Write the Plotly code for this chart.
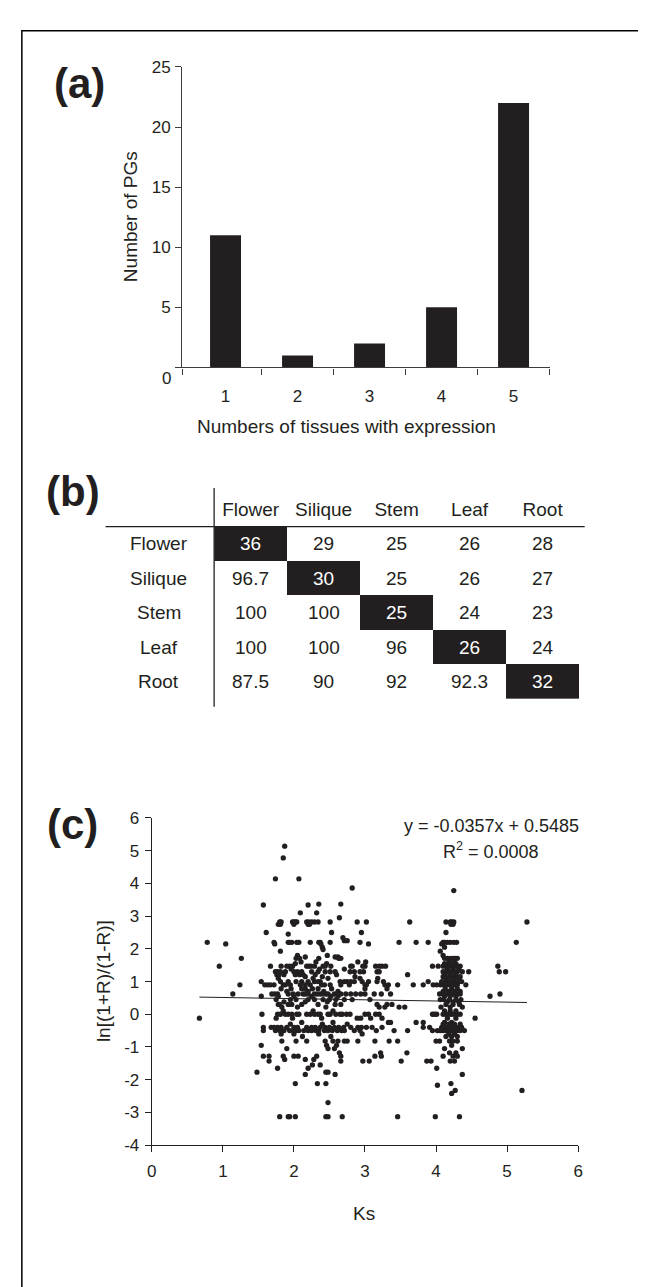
import plotly.graph_objects as go

W, H = 646, 1287

# ---------------- data ----------------
tissue_counts = [1, 2, 3, 4, 5]
pg_numbers = [11, 1, 2, 5, 22]
bar_yticks = [5, 10, 15, 20, 25]

tissues = ["Flower", "Silique", "Stem", "Leaf", "Root"]
overlap_values = [
    ["36", "29", "25", "26", "28"],
    ["96.7", "30", "25", "26", "27"],
    ["100", "100", "25", "24", "23"],
    ["100", "100", "96", "26", "24"],
    ["87.5", "90", "92", "92.3", "32"],
]

reg_slope = -0.0357
reg_intercept = 0.5485
reg_r2 = 0.0008

ks_ticks = [0, 1, 2, 3, 4, 5, 6]
ln_ticks = [-4, -3, -2, -1, 0, 1, 2, 3, 4, 5, 6]
ln_ticktext = ["-4", "-3", "-2", "-1", "0", "1", "2", "3", "4", "5", "6"]

# rows of points: (ln ratio, [Ks values])
scatter_rows = [
    (5.14, [1.87]),
    (4.78, [1.85]),
    (4.14, [1.74, 2.07]),
    (3.86, [2.82]),
    (3.78, [4.25]),
    (3.37, [2.35, 2.66]),
    (3.34, [1.57, 2.20]),
    (3.10, [2.09, 2.32]),
    (2.95, [2.64]),
    (2.82, [1.80, 1.82, 1.98, 2.00, 2.02, 2.04, 2.18, 2.21, 2.25, 2.29, 2.34, 2.51, 2.89, 3.02, 3.63, 4.14, 4.20, 4.22, 4.25, 5.28]),
    (2.75, [1.78, 1.81, 2.00, 2.20, 2.22, 4.21, 4.24]),
    (2.50, [1.61, 2.53, 2.95, 4.14]),
    (2.45, [1.92]),
    (2.34, [2.69]),
    (2.25, [2.71, 2.75]),
    (2.20, [0.78, 1.72, 1.92, 1.94, 1.97, 2.04, 2.07, 2.23, 2.35, 2.37, 2.51, 2.93, 3.48, 3.72, 3.89, 4.10, 4.12, 4.16, 4.20, 4.25, 4.29, 5.13]),
    (2.15, [1.04, 1.73, 2.38, 3.05, 4.08]),
    (2.05, [4.12, 2.40]),
    (1.98, [2.41]),
    (1.93, [1.81, 4.06]),
    (1.80, [2.47, 2.05, 4.10]),
    (1.75, [2.58, 2.16, 2.62]),
    (1.71, [1.26, 2.03, 2.08, 2.35, 2.63, 2.66, 4.12, 4.16, 4.20, 4.24, 4.27, 4.30]),
    (1.60, [2.90, 3.01, 4.18, 4.25, 2.10, 2.31]),
    (1.55, [4.12, 4.20, 4.28, 2.46, 2.02]),
    (1.47, [0.95, 1.67, 1.82, 1.90, 1.94, 1.98, 2.18, 2.21, 2.24, 2.29, 2.41, 2.44, 2.52, 2.80, 2.82, 2.97, 3.00, 3.15, 3.20, 3.24, 3.29, 3.95, 4.03, 4.10, 4.14, 4.18, 4.22, 4.26, 4.30, 4.34, 4.87]),
    (1.38, [4.16, 4.24, 4.32, 1.96, 2.36, 2.71]),
    (1.30, [1.74, 1.77, 1.81, 1.88, 2.00, 2.05, 2.11, 2.25, 2.34, 2.44, 2.51, 2.58, 2.79, 2.85, 2.93, 2.98, 3.17, 3.20, 4.10, 4.14, 4.18, 4.22, 4.26, 4.30, 4.37, 4.46, 4.89, 4.98]),
    (1.21, [1.76, 1.79, 1.86, 2.02, 2.08, 2.13, 2.30, 2.60, 3.60, 4.12, 4.20, 4.28]),
    (1.15, [4.10, 4.18, 4.26, 4.34, 2.16, 2.40, 2.86]),
    (1.10, [1.78, 2.27, 2.48, 2.93, 3.18, 4.15, 4.24, 4.32]),
    (1.00, [1.54, 1.81, 1.92, 2.03, 2.11, 2.20, 2.29, 2.34, 2.37, 2.65, 2.71, 2.75, 2.80, 2.85, 2.96, 3.05, 3.17, 3.26, 3.89, 4.08, 4.12, 4.16, 4.20, 4.24, 4.28, 4.32, 4.36]),
    (0.90, [1.24, 1.59, 1.63, 1.67, 1.72, 1.85, 1.88, 1.95, 2.09, 2.16, 2.23, 2.39, 2.43, 2.51, 2.66, 2.78, 3.00, 3.02, 3.28, 3.33, 3.46, 3.68, 3.82, 3.96, 4.01, 4.06, 4.10, 4.14, 4.18, 4.22, 4.26, 4.30, 4.42]),
    (0.78, [1.96, 2.11, 2.16, 2.34, 2.53, 3.00, 3.31, 4.13, 4.22, 4.30, 1.82, 2.26]),
    (0.70, [4.10, 4.18, 4.26, 4.34, 1.90, 2.20, 2.42, 2.62]),
    (0.62, [1.14, 1.69, 1.73, 1.77, 1.92, 1.99, 2.06, 2.13, 2.16, 2.20, 2.29, 2.33, 2.37, 2.41, 2.45, 2.48, 2.57, 2.66, 2.73, 2.80, 2.87, 2.94, 3.00, 3.13, 3.23, 3.36, 4.05, 4.10, 4.14, 4.18, 4.22, 4.26, 4.30, 4.34, 4.90]),
    (0.55, [1.54, 1.78, 2.00, 2.25, 2.52, 2.62, 4.12, 4.20, 4.28, 4.76]),
    (0.45, [1.75, 1.95, 2.03, 2.20, 2.29, 2.41, 2.50, 2.59, 2.71, 2.82, 3.07, 4.06, 4.11, 4.19, 4.28, 4.35]),
    (0.38, [4.16, 4.24, 4.32, 1.86, 2.16, 2.47]),
    (0.30, [1.78, 1.80, 1.92, 1.97, 2.11, 2.34, 2.58, 2.66, 3.17, 3.31, 3.38, 4.14, 4.24, 4.33]),
    (0.22, [1.83, 2.05, 2.45, 3.48, 3.56, 4.07, 4.20, 4.37, 3.20, 3.28]),
    (0.10, [4.12, 4.20, 4.28, 1.85, 2.27, 2.55]),
    (0.00, [1.55, 1.77, 1.81, 1.88, 1.92, 1.97, 2.04, 2.07, 2.18, 2.23, 2.29, 2.34, 2.37, 2.48, 2.51, 2.59, 2.65, 2.68, 2.74, 2.79, 3.00, 3.05, 3.15, 3.20, 3.95, 3.98, 4.01, 4.10, 4.14, 4.18, 4.22, 4.26, 4.30, 4.34]),
    (-0.12, [0.67, 1.75, 1.98, 2.39, 2.89, 2.94, 3.08, 3.24, 4.55, 4.16, 4.28]),
    (-0.25, [3.33, 3.36, 3.72, 3.82, 2.11, 2.55, 4.12, 4.22]),
    (-0.30, [4.10, 4.18, 4.26, 4.34, 1.95, 2.40, 2.75]),
    (-0.40, [1.57, 1.68, 1.72, 1.77, 1.82, 1.90, 2.00, 2.05, 2.18, 2.25, 2.30, 2.37, 2.44, 2.50, 2.57, 2.63, 2.70, 2.80, 2.90, 2.95, 3.02, 3.10, 3.24, 3.82, 3.91, 4.08, 4.12, 4.16, 4.20, 4.24, 4.28, 4.32, 4.36]),
    (-0.50, [1.57, 1.74, 1.80, 1.86, 1.94, 1.99, 2.03, 2.07, 2.14, 2.20, 2.25, 2.31, 2.35, 2.43, 2.48, 2.54, 2.61, 2.67, 2.71, 2.85, 2.93, 3.16, 3.41, 3.60, 3.95, 4.02, 4.06, 4.10, 4.14, 4.18, 4.22, 4.26, 4.30, 4.34, 4.40]),
    (-0.60, [1.82, 2.00, 2.35, 2.96, 4.18, 4.26]),
    (-0.68, [4.14, 4.22, 4.30, 2.12, 2.52]),
    (-0.82, [1.83, 2.03, 2.18, 2.44, 2.55, 2.62, 2.71, 2.75, 2.90, 3.14, 3.34, 3.46, 4.00, 4.05, 4.19, 4.24, 4.30]),
    (-0.95, [1.54, 2.46, 2.60, 4.22]),
    (-1.05, [1.90, 2.48, 2.57, 4.37, 4.12]),
    (-1.18, [3.22, 3.59, 4.19, 4.28, 2.64]),
    (-1.28, [1.57, 1.65, 1.85, 2.00, 2.06, 2.32, 2.66, 3.14, 3.23, 4.10, 4.24, 4.30]),
    (-1.38, [1.87, 2.16, 2.28]),
    (-1.43, [1.65, 2.97, 3.06, 3.51, 3.87, 3.93, 4.20, 4.26, 2.66]),
    (-1.55, [2.37, 2.26]),
    (-1.65, [1.77, 2.20, 4.01]),
    (-1.77, [1.48, 2.45, 2.48]),
    (-1.84, [2.16, 2.58, 4.37]),
    (-2.12, [2.02, 2.33, 2.45, 4.21]),
    (-2.17, [4.02]),
    (-2.33, [4.27, 5.21]),
    (-2.42, [4.22]),
    (-2.70, [2.48]),
    (-3.13, [1.80, 1.92, 1.94, 2.02, 2.45, 2.48, 2.68, 3.46, 3.99, 4.33]),
]

ks_values = [k for y, ks in scatter_rows for k in ks]
ln_values = [y for y, ks in scatter_rows for k in ks]

# ---------------- helpers ----------------
def fx(p):
    return p / W

def fy(p):
    return 1 - p / H

INK = "#231f20"
AX = "#3c3c3c"
FONT = "Liberation Sans, Arial, Helvetica, sans-serif"

fig = go.Figure()

# (a) bar chart
fig.add_trace(go.Bar(x=tissue_counts, y=pg_numbers, width=0.43,
                     marker=dict(color=INK, line=dict(width=0)),
                     xaxis="x", yaxis="y", hoverinfo="skip"))

# (b) table as heatmap
diag = [[1 if i == j else 0 for j in range(5)] for i in range(5)]
fig.add_trace(go.Heatmap(z=diag, x=tissues, y=tissues,
                         colorscale=[[0, "white"], [1, INK]], showscale=False,
                         zmin=0, zmax=1, xaxis="x3", yaxis="y3", hoverinfo="skip"))

# (c) scatter
fig.add_trace(go.Scatter(x=ks_values, y=ln_values, mode="markers",
                         marker=dict(size=5.3, color=INK),
                         xaxis="x2", yaxis="y2", hoverinfo="skip"))
x_line = [min(ks_values), max(ks_values)]
y_line = [reg_slope * v + reg_intercept for v in x_line]
fig.add_trace(go.Scatter(x=x_line, y=y_line, mode="lines",
                         line=dict(color=INK, width=1),
                         xaxis="x2", yaxis="y2", hoverinfo="skip"))

axis_font = dict(family=FONT, size=17, color=INK)

annotations = []
# numbers in the table
for i, row in enumerate(overlap_values):
    for j, val in enumerate(row):
        annotations.append(dict(x=tissues[j], y=tissues[i], xref="x3", yref="y3",
                                text=val, showarrow=False,
                                xanchor="center", yanchor="middle",
                                font=dict(family=FONT, size=19,
                                          color="white" if i == j else INK)))
# row labels of table
for t in tissues:
    annotations.append(dict(x=fx(148), y=t, xref="paper", yref="y3", text=t,
                            showarrow=False, xanchor="center", yanchor="middle",
                            font=dict(family=FONT, size=19, color=INK)))

# "0" label on bar y-axis (placed slightly lower, as in the original)
annotations.append(dict(x=fx(163), y=0, xref="paper", yref="y", text="0",
                        showarrow=False, xanchor="right", yanchor="middle",
                        yshift=-11, font=axis_font))

def paper_text(text, px, py, size=19, angle=0, xanchor="center"):
    return dict(x=fx(px), y=fy(py), xref="paper", yref="paper", text=text,
                showarrow=False, textangle=angle, xanchor=xanchor,
                yanchor="middle", font=dict(family=FONT, size=size, color=INK))

# axis titles and regression text
annotations += [
    paper_text("Numbers of tissues with expression", 339, 416),
    paper_text("Number of PGs", 119, 203, angle=-90),
    paper_text("Ks", 357, 1214),
    paper_text("ln[(1+R)/(1-R)]", 92, 979, angle=-90),
    paper_text(f"y = {reg_slope}x + {reg_intercept}", 486, 821, size=18),
    paper_text(f"R<sup>2</sup> = {reg_r2:.4f}", 486, 846, size=18),
]
# panel labels
for lab, xr, yc in [("(a)", 95, 68), ("(b)", 90, 482), ("(c)", 88, 820)]:
    annotations.append(paper_text(f"<b>{lab}</b>", xr, yc, size=42, xanchor="right"))

shapes = [
    # outer frame
    dict(type="rect", xref="paper", yref="paper", x0=fx(9), x1=fx(760),
         y0=fy(1400), y1=fy(14), line=dict(color="black", width=1.5)),
    # table rules
    dict(type="line", xref="paper", yref="paper", x0=fx(204.3), x1=fx(204.3),
         y0=fy(478), y1=fy(700), line=dict(color=INK, width=1.3)),
    dict(type="line", xref="paper", yref="paper", x0=fx(94), x1=fx(580.7),
         y0=fy(517.3), y1=fy(517.3), line=dict(color=INK, width=1.3)),
]

fig.update_layout(
    width=W, height=H,
    margin=dict(l=0, r=0, t=0, b=0),
    paper_bgcolor="white", plot_bgcolor="white",
    showlegend=False,
    font=dict(family=FONT, color=INK),
    annotations=annotations,
    shapes=shapes,
    xaxis=dict(domain=[fx(172), fx(545)], range=[0.4, 5.5], anchor="y",
               tickvals=tissue_counts, ticks="", showline=True,
               linecolor=AX, linewidth=1.3, showgrid=False, zeroline=False,
               tickfont=axis_font, ticklabelstandoff=13,
               minor=dict(tickvals=[0.4, 1.5, 2.5, 3.5, 4.5, 5.5], ticks="outside",
                          ticklen=6, tickcolor=AX, tickwidth=1.2, showgrid=False)),
    yaxis=dict(domain=[fy(355.7), fy(50.7)], range=[0, 25], anchor="x",
               tickvals=bar_yticks,
               ticks="outside", ticklen=6, tickcolor=AX, tickwidth=1.2,
               showline=True, linecolor=AX, linewidth=1.3,
               showgrid=False, zeroline=False, tickfont=axis_font,
               ticklabelstandoff=1,
               minor=dict(tickvals=[0], ticks="outside", ticklen=6,
                          tickcolor=AX, tickwidth=1.2, showgrid=False)),
    xaxis3=dict(domain=[fx(204.3), fx(575)], anchor="y3", side="top",
                ticks="", showline=False, showgrid=False, zeroline=False,
                tickfont=dict(family=FONT, size=19, color=INK), ticklabelstandoff=6),
    yaxis3=dict(domain=[fy(692.3), fy(517.3)], anchor="x3", autorange="reversed",
                showticklabels=False, ticks="", showline=False, showgrid=False,
                zeroline=False),
    xaxis2=dict(domain=[fx(141), fx(574)], range=[0, 6], anchor="y2",
                tickvals=ks_ticks,
                ticks="outside", ticklen=6, tickcolor=INK, tickwidth=1.2,
                showline=True, linecolor=INK, linewidth=1.3, showgrid=False,
                zeroline=False, tickfont=axis_font, ticklabelstandoff=4),
    yaxis2=dict(domain=[fy(1145), fy(813)], range=[-4, 6], anchor="x2",
                tickvals=ln_ticks, ticktext=ln_ticktext,
                ticks="outside", ticklen=6, tickcolor=INK, tickwidth=1.2,
                showline=True, linecolor=INK, linewidth=1.3, showgrid=False,
                zeroline=False, tickfont=axis_font, ticklabelstandoff=2),
)

fig.write_html("out.html")
